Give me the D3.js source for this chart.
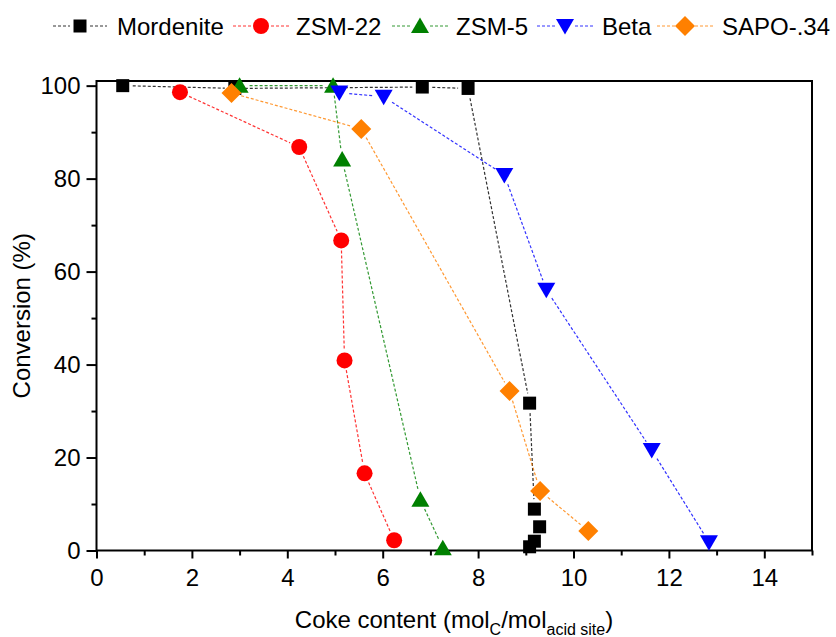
<!DOCTYPE html>
<html>
<head>
<meta charset="utf-8">
<script src="https://cdn.jsdelivr.net/npm/d3@7/dist/d3.min.js"></script>
<style>
  html, body { margin: 0; padding: 0; background: #fff; }
  svg { display: block; font-family: "Liberation Sans", Arial, sans-serif; }
</style>
</head>
<body>
<svg id="chart" width="836" height="637"></svg>
<script>
// Catalyst deactivation: conversion vs. coke content for five zeotypes
const seriesNames = ["Mordenite", "ZSM-22", "ZSM-5", "Beta", "SAPO-.34"];

const mordeniteX = [0.55, 2.9, 6.83, 7.79, 9.08, 9.18, 9.29, 9.18, 9.08];
const mordeniteY = [100, 99.4, 99.7, 99.4, 31.7, 8.9, 5.1, 2.0, 0.8];

const zsm22X = [1.75, 4.25, 5.13, 5.20, 5.62, 6.24];
const zsm22Y = [98.6, 86.8, 66.7, 40.9, 16.6, 2.2];

const zsm5X = [3.0, 4.96, 5.15, 6.79, 7.26];
const zsm5Y = [100, 100, 84.1, 10.9, 0.5];

const betaX = [5.09, 6.02, 8.55, 9.43, 11.64, 12.84];
const betaY = [98.5, 97.6, 80.8, 56.1, 21.6, 1.8];

const sapoX = [2.83, 5.55, 8.66, 9.30, 10.31];
const sapoY = [98.4, 90.7, 34.3, 12.8, 4.2];

const xMajorTicks = [0, 2, 4, 6, 8, 10, 12, 14];
const xMinorTicks = [1, 3, 5, 7, 9, 11, 13, 15];
const yMajorTicks = [0, 20, 40, 60, 80, 100];
const yMinorTicks = [10, 30, 50, 70, 90];

const series = [
  { name: seriesNames[0], xs: mordeniteX, ys: mordeniteY, color: "#000000", shape: "square" },
  { name: seriesNames[1], xs: zsm22X, ys: zsm22Y, color: "#ff0000", shape: "circle" },
  { name: seriesNames[2], xs: zsm5X, ys: zsm5Y, color: "#008000", shape: "triUp" },
  { name: seriesNames[3], xs: betaX, ys: betaY, color: "#0000ff", shape: "triDown" },
  { name: seriesNames[4], xs: sapoX, ys: sapoY, color: "#ff8000", shape: "diamond" }
];

const svg = d3.select("#chart");
svg.append("rect").attr("width", 836).attr("height", 637).attr("fill", "#fff");

const plot = { left: 96.5, right: 812, top: 81, bottom: 550.5 };
const x = d3.scaleLinear().domain([0, 15]).range([plot.left, plot.right]);
const y = d3.scaleLinear().domain([0, 101]).range([plot.bottom, plot.top]);

function markerPath(shape) {
  switch (shape) {
    case "square": return "M-6.5,-6.5H6.5V6.5H-6.5Z";
    case "circle": { const p = d3.path(); p.arc(0, 0, 8, 0, 2 * Math.PI); return p.toString(); }
    case "triUp": return "M0,-8.5L9,7L-9,7Z";
    case "triDown": return "M0,8.5L9,-7L-9,-7Z";
    case "diamond": return "M0,-10L10,0L0,10L-10,0Z";
  }
  return "";
}

// axes: ticks outward, labels on bottom and left only
const xAxisMajor = d3.axisBottom(x).tickValues(xMajorTicks).tickSize(8).tickPadding(10).tickFormat(d3.format("d"));
const xAxisMinor = d3.axisBottom(x).tickValues(xMinorTicks).tickSize(5).tickFormat("");
const yAxisMajor = d3.axisLeft(y).tickValues(yMajorTicks).tickSize(10).tickPadding(6).tickFormat(d3.format("d"));
const yAxisMinor = d3.axisLeft(y).tickValues(yMinorTicks).tickSize(5).tickFormat("");

function styleAxis(g) {
  g.select(".domain").remove();
  g.selectAll(".tick line").attr("stroke", "#000").attr("stroke-width", 2);
  g.selectAll(".tick text").attr("fill", "#000").attr("font-size", 24)
    .attr("font-family", "'Liberation Sans', Arial, sans-serif");
}

svg.append("g").attr("transform", `translate(0,${plot.bottom})`).call(xAxisMajor).call(styleAxis);
svg.append("g").attr("transform", `translate(0,${plot.bottom})`).call(xAxisMinor).call(styleAxis);
svg.append("g").attr("transform", `translate(${plot.left},0)`).call(yAxisMajor).call(styleAxis);
svg.append("g").attr("transform", `translate(${plot.left},0)`).call(yAxisMinor).call(styleAxis);

// frame
svg.append("rect")
  .attr("x", plot.left).attr("y", plot.top)
  .attr("width", plot.right - plot.left).attr("height", plot.bottom - plot.top)
  .attr("fill", "none").attr("stroke", "#000").attr("stroke-width", 2);

// series: dashed connectors that stop short of each marker, then markers
const gap = 10;
series.forEach(s => {
  const pts = s.xs.map((v, i) => [x(v), y(s.ys[i])]);
  const g = svg.append("g");
  for (let i = 0; i < pts.length - 1; i++) {
    const [x1, y1] = pts[i], [x2, y2] = pts[i + 1];
    const dx = x2 - x1, dy = y2 - y1, len = Math.hypot(dx, dy);
    if (len <= 2 * gap) continue;
    const ux = dx / len, uy = dy / len;
    g.append("line")
      .attr("x1", x1 + ux * gap).attr("y1", y1 + uy * gap)
      .attr("x2", x2 - ux * gap).attr("y2", y2 - uy * gap)
      .attr("stroke", s.color).attr("stroke-width", 1.2)
      .attr("stroke-dasharray", "3,2").attr("opacity", 0.8);
  }
  g.selectAll("path.mk").data(pts).join("path")
    .attr("class", "mk")
    .attr("transform", d => `translate(${d[0]},${d[1]})`)
    .attr("d", markerPath(s.shape))
    .attr("fill", s.color);
});

// legend across the top
const legendItems = [
  { lineStart: 53, marker: 80, text: 117 },
  { lineStart: 233, marker: 261, text: 296 },
  { lineStart: 392, marker: 420, text: 456 },
  { lineStart: 537, marker: 565, text: 602 },
  { lineStart: 657, marker: 685, text: 722 }
];
const legendY = 26;
series.forEach((s, i) => {
  const it = legendItems[i];
  const g = svg.append("g");
  g.append("line").attr("x1", it.lineStart).attr("x2", it.marker - 10)
    .attr("y1", legendY).attr("y2", legendY)
    .attr("stroke", s.color).attr("stroke-width", 1).attr("stroke-dasharray", "3,2").attr("opacity", 0.8);
  g.append("line").attr("x1", it.marker + 10).attr("x2", it.marker + (it.marker - it.lineStart))
    .attr("y1", legendY).attr("y2", legendY)
    .attr("stroke", s.color).attr("stroke-width", 1).attr("stroke-dasharray", "3,2").attr("opacity", 0.8);
  g.append("path").attr("transform", `translate(${it.marker},${legendY})`)
    .attr("d", markerPath(s.shape)).attr("fill", s.color);
  g.append("text").attr("x", it.text).attr("y", legendY + 8.5)
    .attr("font-size", 24).attr("fill", "#000").text(s.name);
});

// axis titles
svg.append("text")
  .attr("transform", `translate(30,${(plot.top + plot.bottom) / 2}) rotate(-90)`)
  .attr("text-anchor", "middle").attr("font-size", 24).attr("fill", "#000")
  .text("Conversion (%)");

const xt = svg.append("text")
  .attr("x", 454).attr("y", 628)
  .attr("text-anchor", "middle").attr("font-size", 24).attr("fill", "#000");
xt.append("tspan").text("Coke content (mol");
xt.append("tspan").attr("font-size", 16).attr("dy", 7).text("C");
xt.append("tspan").attr("dy", -7).text("/mol");
xt.append("tspan").attr("font-size", 16).attr("dy", 7).text("acid site");
xt.append("tspan").attr("dy", -7).text(")");
</script>
</body>
</html>
